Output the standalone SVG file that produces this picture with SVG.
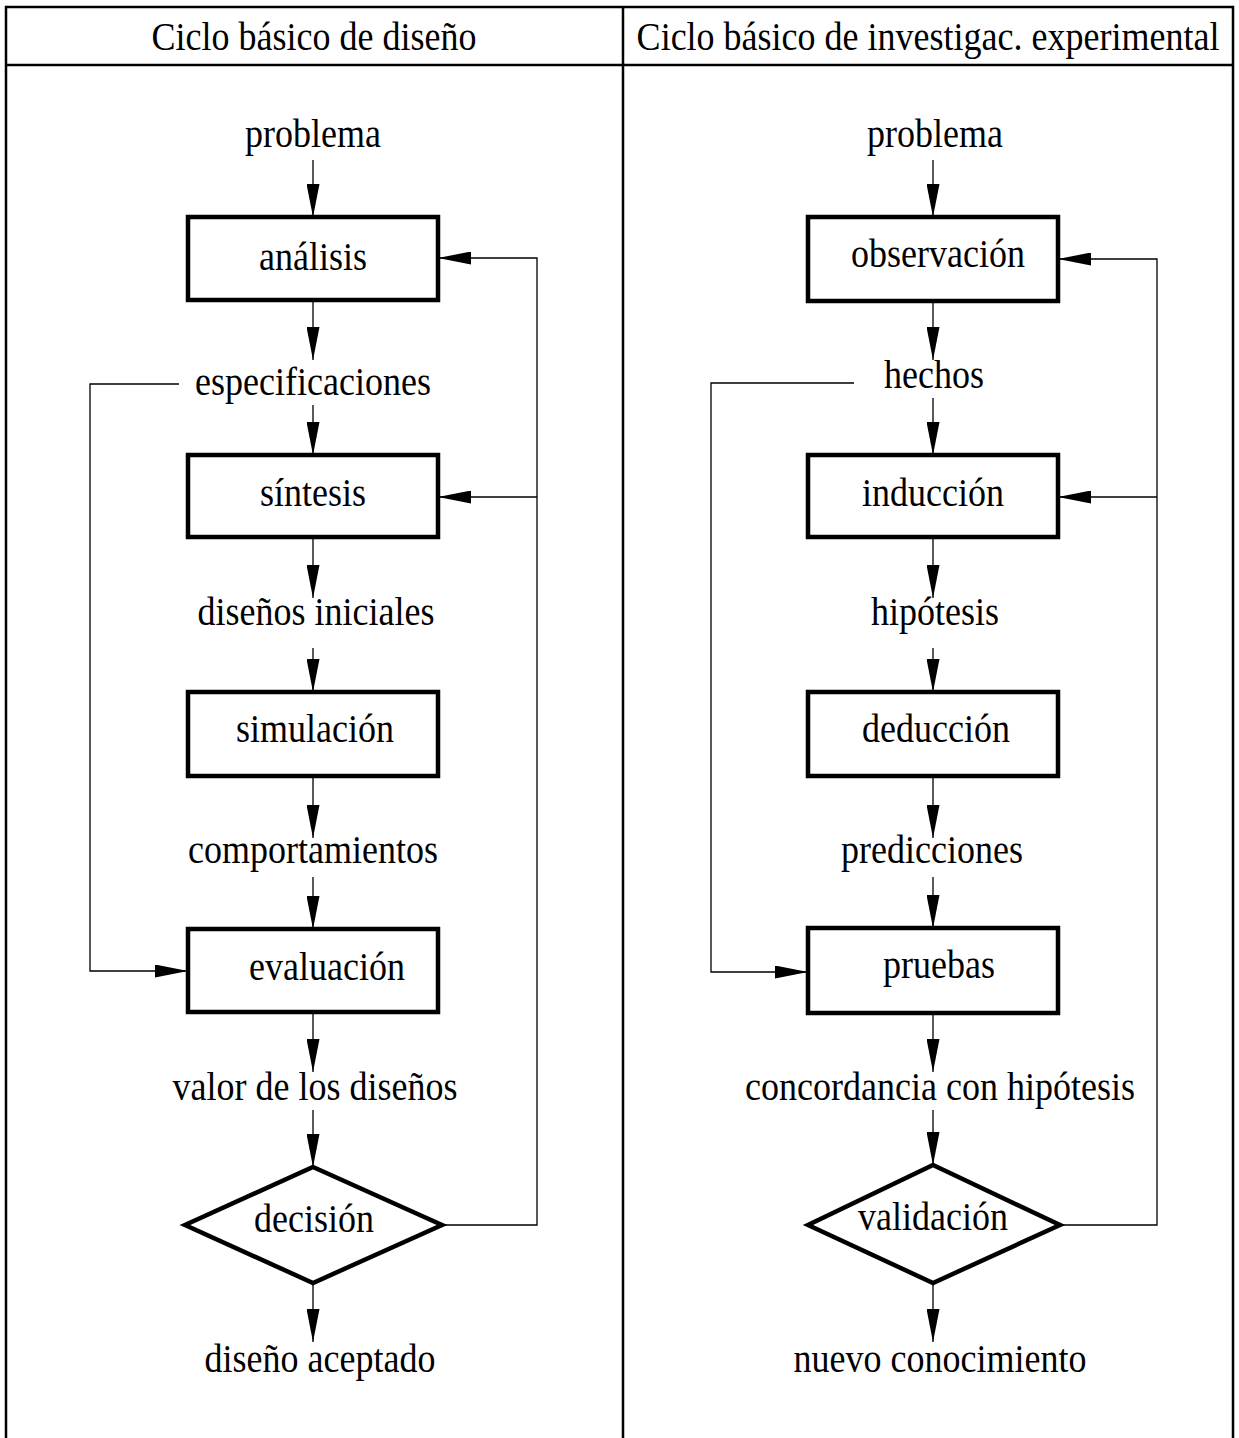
<svg xmlns="http://www.w3.org/2000/svg" width="1239" height="1438" viewBox="0 0 1239 1438">
<defs>
<style>
text{font-family:"Liberation Serif","Times New Roman",serif;font-size:36px;fill:#000;text-anchor:middle}
.frame{fill:none;stroke:#000;stroke-width:2.5}
.box{fill:#fff;stroke:#000;stroke-width:4.5}
.conn{fill:none;stroke:#000;stroke-width:1.3}
.arr{marker-end:url(#ah)}
</style>
<marker id="ah" markerUnits="userSpaceOnUse" markerWidth="33" markerHeight="13" refX="33" refY="6.5" orient="auto">
<path d="M0,0 L33,6.5 L0,13 Z" fill="#000"/>
</marker>
</defs>
<rect width="1239" height="1438" fill="#fff"/>
<g id="frame">
<path class="frame" d="M6,1438 V7 H1233 V1438 M6,65 H1233 M623,7 V1438"/>
<text transform="translate(314,50) scale(1,1.12)">Ciclo básico de diseño</text>
<text transform="translate(928,50) scale(1,1.12)">Ciclo básico de investigac. experimental</text>
</g>
<g id="connectors">
<line class="conn arr" x1="313" y1="160" x2="313" y2="217"/>
<line class="conn arr" x1="313" y1="300" x2="313" y2="360"/>
<line class="conn arr" x1="313" y1="405" x2="313" y2="455"/>
<line class="conn arr" x1="313" y1="537" x2="313" y2="598"/>
<line class="conn arr" x1="313" y1="648" x2="313" y2="692"/>
<line class="conn arr" x1="313" y1="776" x2="313" y2="838"/>
<line class="conn arr" x1="313" y1="877" x2="313" y2="929"/>
<line class="conn arr" x1="313" y1="1012" x2="313" y2="1072"/>
<line class="conn arr" x1="313" y1="1110" x2="313" y2="1167"/>
<line class="conn arr" x1="313" y1="1283" x2="313" y2="1342"/>
<path class="conn arr" d="M442,1225 H537 V258 H438"/>
<line class="conn arr" x1="537" y1="497" x2="438" y2="497"/>
<path class="conn arr" d="M179,384 H90 V971 H188"/>
<line class="conn arr" x1="933" y1="160" x2="933" y2="217"/>
<line class="conn arr" x1="933" y1="301" x2="933" y2="360"/>
<line class="conn arr" x1="933" y1="398" x2="933" y2="455"/>
<line class="conn arr" x1="933" y1="537" x2="933" y2="598"/>
<line class="conn arr" x1="933" y1="648" x2="933" y2="692"/>
<line class="conn arr" x1="933" y1="776" x2="933" y2="838"/>
<line class="conn arr" x1="933" y1="877" x2="933" y2="928"/>
<line class="conn arr" x1="933" y1="1013" x2="933" y2="1072"/>
<line class="conn arr" x1="933" y1="1110" x2="933" y2="1165"/>
<line class="conn arr" x1="933" y1="1283" x2="933" y2="1342"/>
<path class="conn arr" d="M1060,1225 H1157 V259 H1058"/>
<line class="conn arr" x1="1157" y1="497" x2="1058" y2="497"/>
<path class="conn arr" d="M854,383 H711 V972 H808"/>
</g>
<g id="l-problema"><text transform="translate(313,147) scale(1,1.12)">problema</text></g>
<g id="l-analisis"><rect class="box" x="188" y="217" width="250" height="83"/><text transform="translate(313,270) scale(1,1.12)">análisis</text></g>
<g id="l-especificaciones"><text transform="translate(313,395) scale(1,1.12)">especificaciones</text></g>
<g id="l-sintesis"><rect class="box" x="188" y="455" width="250" height="82"/><text transform="translate(313,506) scale(1,1.12)">síntesis</text></g>
<g id="l-disenos-iniciales"><text transform="translate(316,625) scale(1,1.12)">diseños iniciales</text></g>
<g id="l-simulacion"><rect class="box" x="188" y="692" width="250" height="84"/><text transform="translate(315,742) scale(1,1.12)">simulación</text></g>
<g id="l-comportamientos"><text transform="translate(313,863) scale(1,1.12)">comportamientos</text></g>
<g id="l-evaluacion"><rect class="box" x="188" y="929" width="250" height="83"/><text transform="translate(327,980) scale(1,1.12)">evaluación</text></g>
<g id="l-valor"><text transform="translate(315,1100) scale(1,1.12)">valor de los diseños</text></g>
<g id="l-decision"><polygon class="box" points="313,1167 442,1225 313,1283 185,1225"/><text transform="translate(314,1232) scale(1,1.12)">decisión</text></g>
<g id="l-aceptado"><text transform="translate(320,1372) scale(1,1.12)">diseño aceptado</text></g>
<g id="r-problema"><text transform="translate(935,147) scale(1,1.12)">problema</text></g>
<g id="r-observacion"><rect class="box" x="808" y="217" width="250" height="84"/><text transform="translate(938,267) scale(1,1.12)">observación</text></g>
<g id="r-hechos"><text transform="translate(934,388) scale(1,1.12)">hechos</text></g>
<g id="r-induccion"><rect class="box" x="808" y="455" width="250" height="82"/><text transform="translate(933,506) scale(1,1.12)">inducción</text></g>
<g id="r-hipotesis"><text transform="translate(935,625) scale(1,1.12)">hipótesis</text></g>
<g id="r-deduccion"><rect class="box" x="808" y="692" width="250" height="84"/><text transform="translate(936,742) scale(1,1.12)">deducción</text></g>
<g id="r-predicciones"><text transform="translate(932,863) scale(1,1.12)">predicciones</text></g>
<g id="r-pruebas"><rect class="box" x="808" y="928" width="250" height="85"/><text transform="translate(939,978) scale(1,1.12)">pruebas</text></g>
<g id="r-concordancia"><text transform="translate(940,1100) scale(1,1.12)">concordancia con hipótesis</text></g>
<g id="r-validacion"><polygon class="box" points="933,1165 1060,1225 933,1283 808,1225"/><text transform="translate(933,1230) scale(1,1.12)">validación</text></g>
<g id="r-conocimiento"><text transform="translate(940,1372) scale(1,1.12)">nuevo conocimiento</text></g>
</svg>
